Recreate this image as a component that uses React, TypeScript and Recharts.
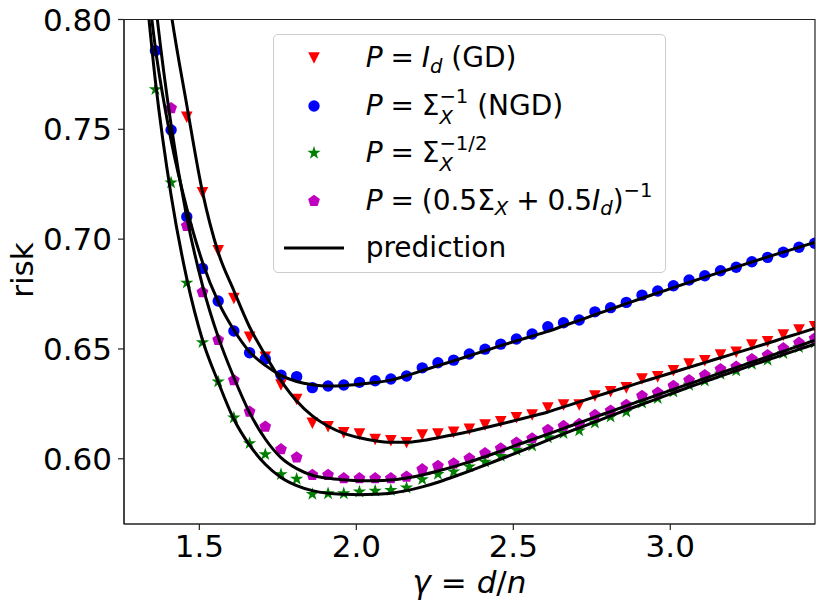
import React from 'react';
import {
  ComposedChart,
  Scatter,
  Line,
  XAxis,
  YAxis,
  ReferenceArea,
  Legend
} from 'recharts';

const FONT = '"DejaVu Sans", "Liberation Sans", sans-serif';

// gamma = d/n grid where the simulations were run
const gamma = [
  1.36, 1.41, 1.46, 1.51, 1.56, 1.61, 1.66, 1.71, 1.76, 1.81, 1.86, 1.91, 1.96, 2.01, 2.06,
  2.11, 2.16, 2.21, 2.26, 2.31, 2.36, 2.41, 2.46, 2.51, 2.56, 2.61, 2.66, 2.71, 2.76, 2.81,
  2.86, 2.91, 2.96, 3.01, 3.06, 3.11, 3.16, 3.21, 3.26, 3.31, 3.36, 3.41, 3.46,
];

// simulated risk (markers), null = off the top of the plot
const gdRisk = [
  null, null, 0.7555, 0.7211, 0.6947, 0.6730, 0.6553, 0.6462, 0.6336, 0.6270, 0.6162, 0.6146, 0.6118, 0.6112, 0.6088,
  0.6082, 0.6073, 0.6108, 0.6112, 0.6120, 0.6134, 0.6153, 0.6168, 0.6187, 0.6199, 0.6231, 0.6245, 0.6245, 0.6286, 0.6305,
  0.6323, 0.6363, 0.6373, 0.6401, 0.6431, 0.6446, 0.6472, 0.6485, 0.6518, 0.6533, 0.6563, 0.6586, 0.6601,
];
const ngdRisk = [
  0.7858, 0.7497, 0.7102, 0.6867, 0.6718, 0.6582, 0.6483, 0.6454, 0.6381, 0.6374, 0.6324, 0.6331, 0.6336, 0.6348, 0.6355,
  0.6363, 0.6377, 0.6414, 0.6437, 0.6449, 0.6477, 0.6499, 0.6522, 0.6545, 0.6568, 0.6601, 0.6619, 0.6632, 0.6669, 0.6688,
  0.6712, 0.6745, 0.6764, 0.6788, 0.6814, 0.6833, 0.6856, 0.6872, 0.6897, 0.6917, 0.6940, 0.6963, 0.6981,
];
const halfRisk = [
  0.7682, 0.7257, 0.6801, 0.6530, 0.6351, 0.6187, 0.6070, 0.6020, 0.5929, 0.5908, 0.5839, 0.5842, 0.5842, 0.5850, 0.5854,
  0.5857, 0.5868, 0.5906, 0.5930, 0.5941, 0.5964, 0.5986, 0.6012, 0.6040, 0.6059, 0.6097, 0.6116, 0.6128, 0.6164, 0.6191,
  0.6214, 0.6255, 0.6275, 0.6305, 0.6336, 0.6355, 0.6386, 0.6401, 0.6431, 0.6449, 0.6480, 0.6507, 0.6528,
];
const mixRisk = [
  null, 0.7596, 0.7060, 0.6758, 0.6541, 0.6358, 0.6214, 0.6146, 0.6043, 0.6006, 0.5926, 0.5926, 0.5911, 0.5911, 0.5911,
  0.5911, 0.5918, 0.5952, 0.5967, 0.5979, 0.6002, 0.6025, 0.6047, 0.6073, 0.6093, 0.6131, 0.6149, 0.6158, 0.6199, 0.6219,
  0.6245, 0.6286, 0.6301, 0.6332, 0.6358, 0.6381, 0.6408, 0.6419, 0.6453, 0.6472, 0.6503, 0.6528, 0.6548,
];

// theoretical prediction curves (one extra point at the left, clipped by the axes)
const predGamma = [1.31, ...gamma];
const gdPred = [
  0.92, 0.858, 0.803, 0.761, 0.7215, 0.694, 0.6765, 0.660, 0.6472, 0.6356, 0.6263, 0.6195, 0.6148, 0.6116, 0.6096,
  0.6082, 0.6075, 0.6075, 0.6083, 0.6096, 0.6109, 0.6124, 0.6141, 0.6158, 0.6176, 0.6194, 0.6213, 0.6236, 0.6259, 0.6282,
  0.6305, 0.6327, 0.6350, 0.6372, 0.6394, 0.6416, 0.6438, 0.6460, 0.6482, 0.6504, 0.6526, 0.6549, 0.6571, 0.6594,
];
const ngdPred = [
  0.852, 0.787, 0.745, 0.714, 0.6895, 0.6715, 0.6586, 0.6487, 0.6425, 0.6380, 0.6352, 0.6337, 0.6331, 0.6333, 0.6339,
  0.6347, 0.6358, 0.6378, 0.6401, 0.6424, 0.6446, 0.6469, 0.6492, 0.6515, 0.6537, 0.6558, 0.6580, 0.6605, 0.6630, 0.6656,
  0.6681, 0.6706, 0.6731, 0.6755, 0.6779, 0.6803, 0.6827, 0.6850, 0.6873, 0.6896, 0.6919, 0.6941, 0.6963, 0.6985,
];
const halfPred = [
  0.845, 0.772, 0.720, 0.682, 0.6541, 0.6350, 0.6180, 0.6062, 0.5975, 0.5915, 0.5878, 0.5855, 0.5843, 0.5838, 0.5836,
  0.5838, 0.5843, 0.5855, 0.5872, 0.5893, 0.5918, 0.5944, 0.5971, 0.5999, 0.6027, 0.6056, 0.6085, 0.6113, 0.6141, 0.6168,
  0.6195, 0.6222, 0.6248, 0.6274, 0.6300, 0.6326, 0.6351, 0.6376, 0.6401, 0.6426, 0.6450, 0.6474, 0.6498, 0.6522,
];
const mixPred = [
  0.885, 0.808, 0.752, 0.710, 0.679, 0.6555, 0.6370, 0.6210, 0.6090, 0.6005, 0.5955, 0.5925, 0.5911, 0.5904, 0.5900,
  0.5900, 0.5903, 0.5912, 0.5926, 0.5944, 0.5964, 0.5986, 0.6009, 0.6035, 0.6062, 0.6087, 0.6112, 0.6138, 0.6164, 0.6190,
  0.6215, 0.6241, 0.6266, 0.6291, 0.6316, 0.6341, 0.6366, 0.6391, 0.6415, 0.6440, 0.6464, 0.6489, 0.6514, 0.6539,
];

const xTicks = [1.5, 2.0, 2.5, 3.0];
const yTicks = [0.6, 0.65, 0.7, 0.75, 0.8];
const X_DOMAIN = [1.26, 3.461];
const Y_DOMAIN = [0.5703, 0.8];

const RED = '#ff0000';
const BLUE = '#0000ff';
const GREEN = '#008000';
const MAGENTA = '#bf00bf';

const toPoints = (xs, ys) =>
  xs.map((x, i) => ({ x, y: ys[i] })).filter((p) => p.y !== null);

// ---- marker shapes (matplotlib v, o, *, p) ----
const triPath = (cx, cy, r) => `M${cx - r},${cy - r}L${cx + r},${cy - r}L${cx},${cy + r}Z`;
const polyPath = (cx, cy, n, rOut, rIn) => {
  const pts = [];
  const step = rIn ? Math.PI / n : (2 * Math.PI) / n;
  const count = rIn ? 2 * n : n;
  for (let k = 0; k < count; k++) {
    const r = rIn && k % 2 === 1 ? rIn : rOut;
    const a = -Math.PI / 2 + k * step;
    pts.push(`${cx + r * Math.cos(a)},${cy + r * Math.sin(a)}`);
  }
  return `M${pts.join('L')}Z`;
};

const TriangleDown = ({ cx, cy }) => <path d={triPath(cx, cy, 5.8)} fill={RED} />;
const Dot = ({ cx, cy }) => <circle cx={cx} cy={cy} r={5.7} fill={BLUE} />;
const Star = ({ cx, cy }) => <path d={polyPath(cx, cy, 5, 7, 2.7)} fill={GREEN} />;
const Pentagon = ({ cx, cy }) => <path d={polyPath(cx, cy, 5, 6.2)} fill={MAGENTA} />;

// ---- legend text helpers ----
const It = ({ children }) => <span style={{ fontStyle: 'italic' }}>{children}</span>;
const Sub = ({ children }) => (
  <span style={{ fontSize: '0.7em', position: 'relative', top: '0.28em' }}>{children}</span>
);
const Sup = ({ children }) => (
  <span style={{ fontSize: '0.7em', position: 'relative', top: '-0.62em' }}>{children}</span>
);
const SubSup = ({ sub, sup }) => (
  <span style={{ position: 'relative', display: 'inline-block' }}>
    <Sup>{sup}</Sup>
    <span style={{ fontSize: '0.7em', position: 'absolute', left: 0, top: '0.62em' }}>{sub}</span>
  </span>
);
const Op = ({ children }) => <span style={{ margin: '0 0.28em' }}>{children}</span>;

const legendRows = [
  {
    marker: <TriangleDown cx={30} cy={20} />,
    label: (<><It>P</It><Op>=</Op><It>I</It><Sub><It>d</It></Sub>&nbsp;(GD)</>),
  },
  {
    marker: <Dot cx={30} cy={20} />,
    label: (<><It>P</It><Op>=</Op>Σ<SubSup sub={<It>X</It>} sup="−1" />&nbsp;(NGD)</>),
  },
  {
    marker: <Star cx={30} cy={20} />,
    label: (<><It>P</It><Op>=</Op>Σ<SubSup sub={<It>X</It>} sup="−1/2" /></>),
  },
  {
    marker: <Pentagon cx={30} cy={20} />,
    label: (<><It>P</It><Op>=</Op>(0.5Σ<Sub><It>X</It></Sub><Op>+</Op>0.5<It>I</It><Sub><It>d</It></Sub>)<Sup>−1</Sup></>),
  },
  {
    marker: <line x1={0} y1={20} x2={60} y2={20} stroke="#000" strokeWidth={3} />,
    label: <>prediction</>,
  },
];

const LegendBox = () => (
  <div
    style={{
      position: 'relative',
      width: 393,
      height: 239,
      boxSizing: 'border-box',
      border: '1px solid #cccccc',
      borderRadius: 5,
      background: 'rgba(255,255,255,0.8)',
      fontFamily: FONT,
      fontSize: 28,
      color: '#000',
    }}
  >
    {legendRows.map((row, i) => (
      <div
        key={i}
        style={{ position: 'absolute', left: 0, top: 3.3 + i * 47.4, height: 40, width: '100%' }}
      >
        <svg width={60} height={40} style={{ position: 'absolute', left: 10, top: 0 }}>
          {row.marker}
        </svg>
        <div
          style={{
            position: 'absolute',
            left: 92,
            top: 0,
            height: 40,
            lineHeight: '40px',
            whiteSpace: 'nowrap',
          }}
        >
          {row.label}
        </div>
      </div>
    ))}
  </div>
);

const YTitle = () => (
  <text
    x={32.7}
    y={270}
    transform="rotate(-90, 32.7, 270)"
    textAnchor="middle"
    fontFamily={FONT}
    fontSize={31}
    fill="#000"
  >
    risk
  </text>
);

const XTitle = () => (
  <text x={469.5} y={593} textAnchor="middle" fontFamily={FONT} fontSize={31} fill="#000">
    <tspan fontStyle="italic">γ</tspan>
    <tspan> = </tspan>
    <tspan fontStyle="italic">d</tspan>
    <tspan>/</tspan>
    <tspan fontStyle="italic">n</tspan>
  </text>
);

export default function App() {
  const tickStyle = { fontFamily: FONT, fontSize: 31, fill: '#000' };
  return (
    <div style={{ position: 'absolute', left: 0, top: 0, width: 822, height: 608, background: '#fff' }}>
      <ComposedChart
        width={822}
        height={608}
        margin={{ top: 19.5, right: 7, bottom: 0, left: 0 }}
      >
        <XAxis
          type="number"
          dataKey="x"
          domain={X_DOMAIN}
          allowDataOverflow
          ticks={xTicks}
          tickFormatter={(v) => v.toFixed(1)}
          tick={tickStyle}
          tickSize={6}
          tickMargin={5}
          height={84}
          axisLine={{ stroke: '#222', strokeWidth: 1.2 }}
          tickLine={{ stroke: '#222', strokeWidth: 1.2 }}
          label={() => <XTitle />}
        />
        <YAxis
          type="number"
          dataKey="y"
          domain={Y_DOMAIN}
          allowDataOverflow
          ticks={yTicks}
          tickFormatter={(v) => v.toFixed(2)}
          tick={tickStyle}
          tickSize={6}
          tickMargin={6}
          width={124}
          axisLine={{ stroke: '#222', strokeWidth: 1.2 }}
          tickLine={{ stroke: '#222', strokeWidth: 1.2 }}
          label={() => <YTitle />}
        />
        <Scatter data={toPoints(gamma, gdRisk)} dataKey="y" shape={TriangleDown} isAnimationActive={false} />
        <Scatter data={toPoints(gamma, ngdRisk)} dataKey="y" shape={Dot} isAnimationActive={false} />
        <Scatter data={toPoints(gamma, halfRisk)} dataKey="y" shape={Star} isAnimationActive={false} />
        <Scatter data={toPoints(gamma, mixRisk)} dataKey="y" shape={Pentagon} isAnimationActive={false} />
        {[gdPred, ngdPred, halfPred, mixPred].map((ys, i) => (
          <Line
            key={i}
            data={toPoints(predGamma, ys)}
            dataKey="y"
            type="monotone"
            stroke="#000"
            strokeWidth={3}
            dot={false}
            activeDot={false}
            zIndex={700}
            isAnimationActive={false}
          />
        ))}
        <ReferenceArea
          x1={X_DOMAIN[0]}
          x2={X_DOMAIN[1]}
          y1={Y_DOMAIN[0]}
          y2={Y_DOMAIN[1]}
          fill="none"
          fillOpacity={0}
          stroke="#222"
          strokeWidth={1.2}
          ifOverflow="visible"
          zIndex={800}
        />
        <Legend
          layout="vertical"
          align="center"
          verticalAlign="middle"
          content={() => <LegendBox />}
          wrapperStyle={{ left: 272.7, top: 34, width: 393, height: 239 }}
        />
      </ComposedChart>
    </div>
  );
}
